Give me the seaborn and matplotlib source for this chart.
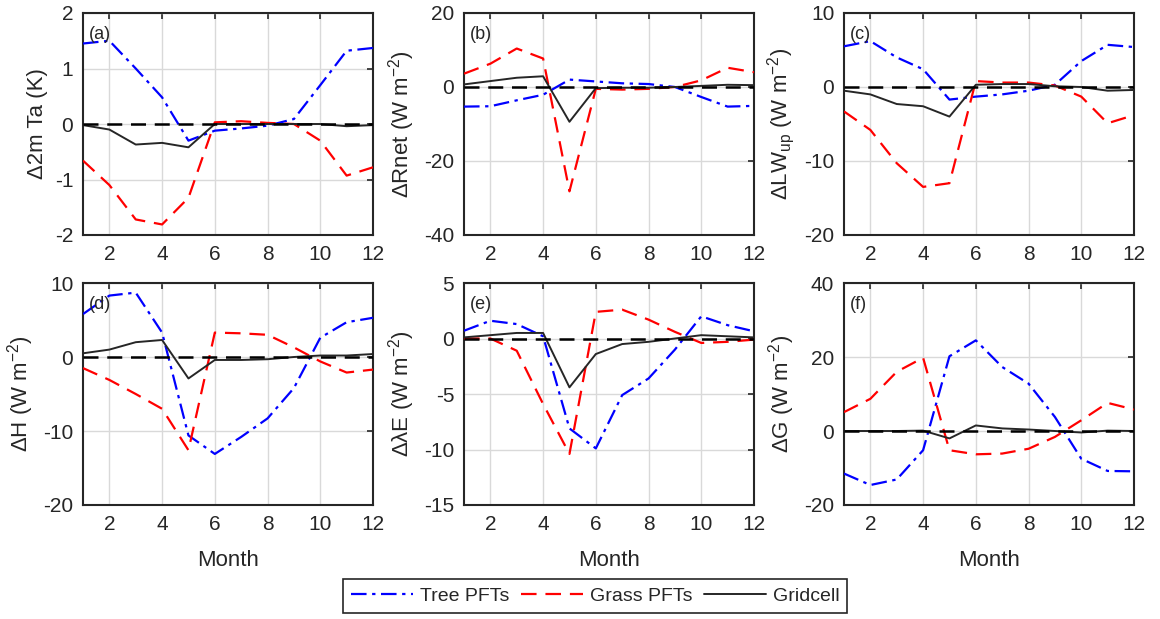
import numpy as np
import pandas as pd
import seaborn as sns
import matplotlib
matplotlib.use("Agg")
import matplotlib.pyplot as plt
from matplotlib.lines import Line2D

sns.set_theme(style="white")
plt.rcParams["font.family"] = ["Liberation Sans", "DejaVu Sans"]
plt.rcParams["mathtext.fontset"] = "custom"
plt.rcParams["mathtext.rm"] = "Liberation Sans"
plt.rcParams["mathtext.it"] = "Liberation Sans:italic"
plt.rcParams["mathtext.default"] = "rm"
plt.rcParams["axes.unicode_minus"] = False

months = list(range(1, 13))

# Monthly differences for each panel: tree PFTs, grass PFTs and gridcell mean
ta_tree = [1.45, 1.5, 1.0, 0.48, -0.3, -0.12, -0.08, -0.03, 0.09, 0.7, 1.32, 1.37]
ta_grass = [-0.66, -1.1, -1.72, -1.81, -1.33, 0.03, 0.05, 0.02, 0.0, -0.3, -0.93, -0.78]
ta_grid = [-0.02, -0.1, -0.37, -0.34, -0.42, 0.0, 0.0, 0.0, 0.0, 0.0, -0.04, -0.02]

rnet_tree = [-5.3, -5.2, -3.6, -2.1, 2.0, 1.5, 1.0, 0.8, 0.0, -2.7, -5.3, -5.1]
rnet_grass = [3.6, 6.3, 10.4, 7.7, -28.2, -0.5, -0.7, -0.5, 0.0, 1.8, 5.2, 4.0]
rnet_grid = [0.7, 1.6, 2.5, 2.9, -9.4, -0.3, -0.2, -0.2, 0.0, 0.3, 0.6, 0.5]

lw_tree = [5.5, 6.2, 4.0, 2.4, -1.7, -1.3, -1.0, -0.5, 0.3, 3.5, 5.7, 5.4]
lw_grass = [-3.3, -5.8, -10.3, -13.5, -13.0, 0.8, 0.6, 0.6, 0.2, -1.3, -4.9, -3.8]
lw_grid = [-0.5, -1.0, -2.3, -2.6, -4.0, 0.3, 0.4, 0.4, 0.1, 0.0, -0.5, -0.4]

h_tree = [5.8, 8.3, 8.7, 3.3, -10.6, -13.1, -10.8, -8.3, -4.2, 2.6, 4.7, 5.3]
h_grass = [-1.5, -3.1, -5.0, -7.0, -12.6, 3.3, 3.2, 3.0, 1.3, -0.6, -2.1, -1.7]
h_grid = [0.5, 1.0, 2.0, 2.3, -2.9, -0.4, -0.4, -0.3, 0.0, 0.2, 0.2, 0.4]

le_tree = [0.7, 1.6, 1.3, 0.2, -8.1, -9.9, -5.1, -3.6, -1.0, 2.0, 1.2, 0.65]
le_grass = [0.0, 0.0, -1.1, -5.9, -10.4, 2.4, 2.6, 1.7, 0.6, -0.4, -0.3, -0.1]
le_grid = [0.1, 0.3, 0.5, 0.5, -4.4, -1.4, -0.5, -0.3, 0.0, 0.3, 0.2, 0.1]

g_tree = [-11.5, -14.6, -13.1, -5.2, 20.2, 24.5, 17.3, 12.8, 3.8, -7.5, -10.8, -10.9]
g_grass = [5.1, 8.7, 16.0, 19.8, -5.2, -6.3, -6.1, -4.8, -1.6, 2.9, 7.6, 5.8]
g_grid = [0.0, 0.0, 0.0, 0.1, -2.0, 1.5, 0.7, 0.4, 0.0, -0.4, 0.1, 0.0]

series_names = ["Tree PFTs", "Grass PFTs", "Gridcell"]
panel_tags = ["(a)", "(b)", "(c)", "(d)", "(e)", "(f)"]
ylabels = [
    "\u03942m Ta (K)",
    "\u0394Rnet (W m$^{-2}$)",
    "\u0394LW$_{up}$ (W m$^{-2}$)",
    "\u0394H (W m$^{-2}$)",
    "\u0394\u03bbE (W m$^{-2}$)",
    "\u0394G (W m$^{-2}$)",
]
ylims = [(-2, 2), (-40, 20), (-20, 10), (-20, 10), (-15, 5), (-20, 40)]
yticks = [
    [-2, -1, 0, 1, 2],
    [-40, -20, 0, 20],
    [-20, -10, 0, 10],
    [-20, -10, 0, 10],
    [-15, -10, -5, 0, 5],
    [-20, 0, 20, 40],
]
panel_data = [
    (ta_tree, ta_grass, ta_grid),
    (rnet_tree, rnet_grass, rnet_grid),
    (lw_tree, lw_grass, lw_grid),
    (h_tree, h_grass, h_grid),
    (le_tree, le_grass, le_grid),
    (g_tree, g_grass, g_grid),
]

styles = {
    "Tree PFTs": dict(color="#0000ff", dashes=(7, 2.5, 1.5, 2.5), lw=1.6),
    "Grass PFTs": dict(color="#ff0000", dashes=(7, 4), lw=1.6),
    "Gridcell": dict(color="#262626", dashes=None, lw=1.4),
}

text_color = "#262626"
fig = plt.figure(figsize=(11.6, 6.19), dpi=100)

W, H = 1160, 619
lefts = [83, 464, 844]
width = 290
tops = [13, 283]
height = 222

axes = []
for i in range(6):
    r, c = divmod(i, 3)
    ax = fig.add_axes([lefts[c] / W, 1 - (tops[r] + height) / H, width / W, height / H])
    axes.append(ax)

for i, ax in enumerate(axes):
    tree, grass, grid = panel_data[i]
    df = pd.DataFrame({
        "Month": months * 3,
        "value": list(tree) + list(grass) + list(grid),
        "series": [series_names[0]] * 12 + [series_names[1]] * 12 + [series_names[2]] * 12,
    })
    for name in series_names:
        st = styles[name]
        sub = df[df["series"] == name]
        line_ax = sns.lineplot(data=sub, x="Month", y="value", ax=ax,
                               color=st["color"], lw=st["lw"], legend=False, zorder=3)
        ln = line_ax.get_lines()[-1]
        if st["dashes"] is not None:
            ln.set_dashes(st["dashes"])
    ax.axhline(0, color="black", lw=1.8, ls=(0, (6, 3.5)), zorder=4)

    ax.set_xlim(1, 12)
    ax.set_ylim(*ylims[i])
    ax.set_xticks([2, 4, 6, 8, 10, 12])
    ax.set_yticks(yticks[i])
    ax.grid(True, color="#d9d9d9", lw=1.0)
    ax.set_axisbelow(True)
    ax.tick_params(direction="in", length=4, width=1.2, top=True, right=True,
                   labelsize=15, colors=text_color, pad=7)
    for tl in ax.get_xticklabels() + ax.get_yticklabels():
        tl.set_color(text_color)
    for sp in ax.spines.values():
        sp.set_color(text_color)
        sp.set_linewidth(1.5)
    ax.set_ylabel(ylabels[i], fontsize=16, color=text_color, labelpad=5)
    if i >= 3:
        ax.set_xlabel("Month", fontsize=16, color=text_color, labelpad=12)
    else:
        ax.set_xlabel("")
    ax.text(0.02, 0.905, panel_tags[i], transform=ax.transAxes, fontsize=13,
            color=text_color, va="center", ha="left", zorder=5)

handles = [
    Line2D([], [], color=styles[n]["color"], lw=styles[n]["lw"],
           dashes=styles[n]["dashes"] if styles[n]["dashes"] else (None, None))
    for n in series_names
]
leg = fig.legend(handles, series_names, loc="center", bbox_to_anchor=(595 / W, 1 - 596 / H),
                 ncol=3, fontsize=14, frameon=True, fancybox=False, framealpha=1,
                 edgecolor=text_color, handlelength=3.2, columnspacing=0.6,
                 handletextpad=0.35, borderpad=0.4)
leg.get_frame().set_linewidth(1.2)
for t in leg.get_texts():
    t.set_color(text_color)

fig.savefig("out.png", dpi=100)
